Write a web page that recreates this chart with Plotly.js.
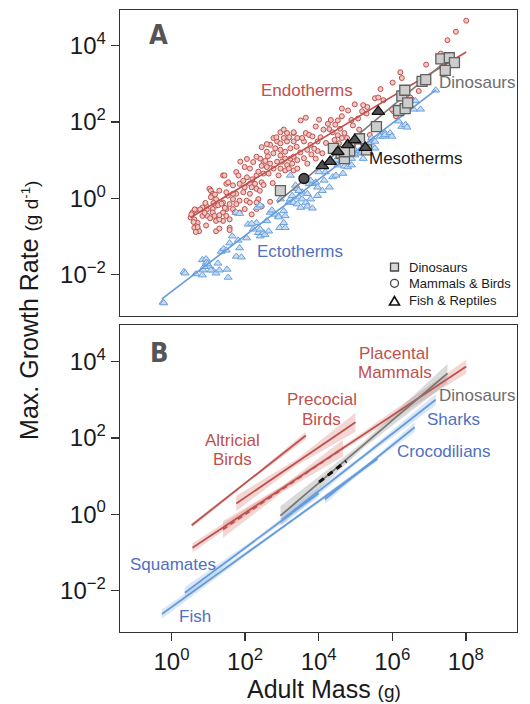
<!DOCTYPE html>
<html>
<head>
<meta charset="utf-8">
<script src="https://cdn.plot.ly/plotly-3.0.1.min.js"></script>
<style>html,body{margin:0;padding:0;background:#fff;}</style>
</head>
<body>
<div id="chart" style="width:530px;height:704px;"></div>
<script>
// ---------- Panel A: individual species (log10 adult mass in g, log10 max growth rate in g/day) ----------
const endoLogMass = [
  8.01,7.73,7.50,7.32,6.92,6.22,6.26,6.01,6.72,6.49,6.56,5.68,5.53,5.62,5.76,6.03,6.10,5.99,
  5.32,5.21,4.98,4.63,5.18,5.30,5.07,4.89,4.93,4.63,4.52,4.33,4.45,4.29,4.58,4.38,4.70,4.77,4.52,4.13,4.01,3.92,4.63,4.43,4.55,4.93,5.21,4.70,5.44,5.39,
  3.65,3.51,3.42,3.32,3.65,3.74,3.83,3.60,3.78,3.97,3.69,3.97,4.10,3.92,3.69,3.55,
  2.96,3.14,3.32,3.05,2.77,2.87,2.96,3.14,3.32,3.23,3.09,2.96,2.82,2.68,2.59,2.45,2.59,2.77,2.96,3.09,3.23,3.32,3.42,3.28,3.14,3.00,2.87,2.68,2.50,2.41,2.31,2.59,2.77,2.96,3.09,3.19,3.32,3.42,2.91,2.64,2.45,2.27,2.31,2.50,2.13,
  1.87,1.99,2.13,1.76,1.40,1.44,1.85,1.67,1.99,2.18,2.31,2.13,1.95,1.76,1.67,1.53,1.49,1.67,1.85,2.04,2.13,2.36,2.31,1.99,1.85,1.76,1.58,1.40,1.21,1.30,1.49,
  1.03,1.07,1.12,1.10,1.07,1.21,1.12,0.94,0.84,0.66,0.57,0.52,0.62,0.71,0.66,0.71,0.62,0.84,0.98,1.12,1.17,1.21,1.40,1.40,1.30,1.49,1.58,1.67,1.72,1.49,1.58,0.94,1.21,0.75,
  0.63,0.54,0.60,0.66,0.71,0.78,0.92,0.96,1.14,1.18,1.27,1.36,1.45,1.30,1.05,0.90,1.54,1.82,2.05,2.20,2.36,2.45,2.55,2.62,2.22,2.05,1.95,2.40,2.50,2.75,2.85,3.05,3.20,3.40,3.50,3.60,3.80,3.88,4.05,4.20,4.35,4.25,4.80,5.10,
  2.68,2.45,2.31,2.18,1.30,1.58
];
const endoLogRate = [
  4.65,4.36,4.14,3.79,3.50,3.30,3.15,3.03,2.81,2.64,2.57,2.86,2.62,2.64,2.57,2.28,2.15,2.33,
  2.39,2.44,2.46,2.35,2.28,2.22,2.09,2.05,1.91,2.15,2.04,2.05,1.93,1.81,1.82,1.73,1.71,1.58,1.65,1.80,2.06,1.88,1.58,1.53,1.44,1.38,1.42,1.33,1.56,1.66,
  2.11,2.04,1.58,1.71,1.71,1.66,1.62,1.49,1.40,1.49,1.27,1.24,1.18,1.04,0.91,1.58,
  1.73,1.71,1.73,1.58,1.58,1.49,1.44,1.49,1.49,1.31,1.22,1.27,1.31,1.40,1.42,1.34,1.22,1.18,1.12,1.04,1.04,1.09,1.00,0.91,0.87,0.96,0.96,0.91,0.96,1.04,1.09,0.82,0.78,0.78,0.73,0.78,0.73,0.78,0.60,0.65,0.42,0.38,0.60,0.65,0.38,
  0.96,0.82,0.78,0.69,0.60,0.60,0.38,0.34,0.29,0.29,0.25,0.12,0.16,0.12,0.12,0.07,0.16,-0.02,-0.06,-0.06,-0.11,-0.02,-0.28,-0.28,-0.37,-0.15,-0.15,-0.11,-0.02,0.20,0.38,
  0.25,0.20,0.12,0.07,0.03,-0.19,-0.28,-0.19,-0.24,-0.30,-0.37,-0.50,-0.55,-0.64,-0.73,-0.81,-0.77,-0.46,-0.46,-0.37,-0.46,-0.59,-0.37,-0.59,-0.55,-0.46,-0.55,-0.28,-0.37,-0.28,-0.77,-0.71,-0.86,-0.86,
  -0.29,-0.42,-0.62,-0.88,-0.75,-0.29,-0.12,-0.29,-0.12,0.10,-0.18,-0.14,-0.25,-0.44,-0.52,-0.38,0.42,0.60,0.55,0.50,0.70,0.85,0.98,1.10,0.95,1.03,0.46,0.20,0.35,0.40,1.60,1.80,1.60,1.35,1.20,1.05,1.15,1.30,1.60,1.45,1.30,1.95,2.30,1.80,
  -0.09,-0.21,-0.11,-0.42,-0.79,-0.83
];

const ectoLogMass = [
  -0.23,-0.21,0.34,0.37,0.84,0.94,0.95,0.86,0.66,0.84,1.12,1.03,1.26,1.35,1.51,1.54,1.58,1.65,1.81,1.85,
  1.76,2.04,2.08,2.22,2.31,2.36,2.41,2.50,2.59,2.68,2.82,2.91,2.94,3.05,3.09,3.19,3.23,3.32,3.42,3.46,
  3.55,3.51,3.65,3.69,3.42,3.37,3.23,3.60,3.74,3.83,3.78,3.92,3.97,4.10,4.15,4.18,4.29,4.38,4.47,4.52,
  4.66,4.70,4.79,4.89,4.98,5.07,5.21,5.25,5.39,5.44,5.53,5.67,5.76,5.80,6.17,6.26,6.49,6.58,7.18,1.76,
  2.33,2.41,4.01,
  0.89,0.98,1.07,1.21,1.30,1.42,1.49,1.90,2.18,2.41,2.54,2.64,1.85,2.73,2.91,3.05,3.09,2.96,3.28,3.55,
  3.69,3.78,3.83,3.46,3.97,6.63,6.77,6.36,6.40,5.80,5.94,5.99,5.48,5.53,4.89,4.47,4.70,5.15,5.00
];
const ectoLogRate = [
  -2.72,-2.74,-1.92,-1.96,-1.61,-1.59,-1.68,-1.88,-1.98,-2.01,-1.88,-1.79,-1.70,-1.39,-1.86,-2.07,-1.17,-0.99,-1.10,-1.30,
  -1.52,-1.04,-0.68,-0.81,-0.64,-0.90,-0.99,-0.90,-0.59,-0.37,-0.42,-0.46,-0.77,-0.33,-0.46,-0.11,-0.02,-0.11,-0.15,0.03,
  -0.02,-0.24,-0.11,-0.21,0.25,0.34,0.60,0.56,0.38,0.38,0.47,0.42,0.07,0.20,0.47,0.69,0.29,0.56,0.60,0.87,
  0.65,0.84,0.82,1.04,1.13,1.18,1.04,1.31,1.40,1.58,1.49,1.62,1.62,1.71,2.02,1.88,2.55,2.33,2.83,-0.37,
  -0.24,-0.18,0.69,
  -1.79,-1.72,-1.88,-1.96,-1.88,-1.32,-1.36,-1.54,-0.66,-0.81,-0.95,-0.86,-0.40,-0.31,-0.49,-0.64,-0.77,-0.02,0.07,0.16,
  0.12,-0.02,-0.26,0.20,0.29,2.55,2.33,1.93,1.86,1.66,1.71,1.62,1.35,1.31,0.87,1.00,1.00,1.20,1.25
];

const dinoLogMass = [2.96,4.40,4.61,4.70,4.84,5.11,5.30,5.57,6.17,6.35,6.26,6.34,6.42,6.81,6.91,7.32,7.55,7.69,7.44,4.70];
const dinoLogRate = [0.20,1.31,1.18,1.04,1.24,1.56,1.27,1.88,2.30,2.35,2.68,2.83,2.50,3.06,3.11,3.65,3.68,3.55,3.35,1.22];

const mesoReptLogMass = [4.10,4.31,4.52,4.79,4.98,5.27,5.62];
const mesoReptLogRate = [0.85,0.96,1.22,1.40,1.53,1.33,2.27];
const mesoMammLogMass = [3.60];
const mesoMammLogRate = [0.52];

// Panel A fitted lines: [start, end]
const fitANames = ['Endotherms', 'Ectotherms', 'Dinosaurs'];
const fitALogMass = [[0.52, 8.01], [-0.26, 7.18], [2.87, 7.46]];
const fitALogRate = [[-0.50, 3.83], [-2.63, 2.83], [-0.11, 3.59]];

// Symbol key for panel A
const keyLabels = ['Dinosaurs', 'Mammals &amp; Birds', 'Fish &amp; Reptiles'];

// ---------- Panel B: group regressions with confidence bands ----------
const groupNames   = ['Altricial Birds','Precocial Birds','Placental Mammals','Marsupials','Dinosaurs','Mesotherms','Fish','Squamates','Sharks','Crocodilians'];
const groupKind    = ['endo','endo','endo','endo','dino','meso','ecto','ecto','ecto','ecto'];
const groupDashed  = [false,false,false,true,false,true,false,false,false,false];
const groupLogMassLo = [0.55, 1.76, 0.57, 1.40, 2.96, 4.01, -0.26, 0.36, 3.00, 4.17];
const groupLogMassHi = [3.65, 5.00, 8.01, 4.66, 7.50, 4.75, 5.60, 4.00, 7.18, 6.61];
const groupLogRateLo = [-0.29, 0.28, -0.88, -0.40, -0.04, 0.84, -2.62, -2.06, -0.15, 0.39];
const groupLogRateHi = [2.06, 2.41, 3.87, 1.73, 3.69, 1.39, 1.45, 0.55, 3.00, 2.28];
// half-width of the confidence band (log10 units) at start, middle, end
const groupCI = [[0.06,0.03,0.10],[0.20,0.08,0.25],[0.12,0.04,0.18],[0.22,0.08,0.22],[0.25,0.08,0.25],
                 [0,0,0],[0.12,0.04,0.06],[0.15,0.05,0.10],[0.15,0.05,0.15],[0.12,0.04,0.12]];

// ---------- Axis ticks ----------
const massTickVals = [1, 1e2, 1e4, 1e6, 1e8];
const massTickText = ['10<sup>0</sup>','10<sup>2</sup>','10<sup>4</sup>','10<sup>6</sup>','10<sup>8</sup>'];
const rateTickVals = [1e-2, 1, 1e2, 1e4];
const rateTickText = ['10<sup>\u22122</sup>','10<sup>0</sup>','10<sup>2</sup>','10<sup>4</sup>'];

// ---------- Styling ----------
const FONT = 'Liberation Sans, Arial, Helvetica, sans-serif';
const RED = 'rgb(192,80,77)';
const BLUE_LINE = 'rgb(100,155,220)';
const BLUE_TXT = 'rgb(80,112,192)';
const GREY_TXT = 'rgb(110,110,110)';
const kindLine = {endo: RED, ecto: BLUE_LINE, dino: 'rgb(120,120,120)', meso: '#111'};
const kindBand = {endo: 'rgba(215,130,120,0.32)', ecto: 'rgba(130,175,230,0.30)', dino: 'rgba(150,150,150,0.35)', meso: 'rgba(0,0,0,0)'};

const p10 = v => Math.pow(10, v);
const traces = [];

// Panel A scatter
traces.push({x: endoLogMass.map(p10), y: endoLogRate.map(p10), xaxis: 'x2', yaxis: 'y', mode: 'markers', type: 'scatter',
  marker: {symbol: 'circle', size: 5, color: 'rgb(240,200,196)', line: {color: RED, width: 1}}});
traces.push({x: ectoLogMass.map(p10), y: ectoLogRate.map(p10), xaxis: 'x2', yaxis: 'y', mode: 'markers', type: 'scatter',
  marker: {symbol: 'triangle-up', size: 7, color: 'rgb(200,221,245)', line: {color: 'rgb(105,160,222)', width: 1}}});

// Panel A fitted lines
const fitAColors = [RED, BLUE_LINE, 'rgb(125,125,125)'];
fitANames.forEach((n, i) => {
  traces.push({x: fitALogMass[i].map(p10), y: fitALogRate[i].map(p10), xaxis: 'x2', yaxis: 'y', mode: 'lines', type: 'scatter',
    name: n, line: {color: fitAColors[i], width: 1.6}});
});

traces.push({x: dinoLogMass.map(p10), y: dinoLogRate.map(p10), xaxis: 'x2', yaxis: 'y', mode: 'markers', type: 'scatter',
  marker: {symbol: 'square', size: 10, color: 'rgb(205,205,205)', line: {color: 'rgb(95,95,95)', width: 1.3}}});
traces.push({x: mesoReptLogMass.map(p10), y: mesoReptLogRate.map(p10), xaxis: 'x2', yaxis: 'y', mode: 'markers', type: 'scatter',
  marker: {symbol: 'triangle-up', size: 11, color: 'rgb(80,80,80)', line: {color: '#111', width: 1.3}}});
traces.push({x: mesoMammLogMass.map(p10), y: mesoMammLogRate.map(p10), xaxis: 'x2', yaxis: 'y', mode: 'markers', type: 'scatter',
  marker: {symbol: 'circle', size: 10, color: 'rgb(80,80,80)', line: {color: '#111', width: 1.3}}});

// Panel B bands then lines
groupNames.forEach((n, i) => {
  const lo = groupLogMassLo[i], hi = groupLogMassHi[i];
  const rlo = groupLogRateLo[i], rhi = groupLogRateHi[i];
  const xs = [lo, (lo + hi) / 2, hi];
  const ys = [rlo, (rlo + rhi) / 2, rhi];
  const ci = groupCI[i];
  if (ci[0] > 0) {
    const px = xs.concat(xs.slice().reverse());
    const py = ys.map((v, k) => v + ci[k]).concat(ys.map((v, k) => v - ci[k]).reverse());
    traces.push({x: px.map(p10), y: py.map(p10), xaxis: 'x', yaxis: 'y2', type: 'scatter', mode: 'lines',
      fill: 'toself', fillcolor: kindBand[groupKind[i]], line: {width: 0}, hoverinfo: 'skip'});
  }
});
groupNames.forEach((n, i) => {
  const isMeso = groupKind[i] === 'meso';
  traces.push({x: [groupLogMassLo[i], groupLogMassHi[i]].map(p10), y: [groupLogRateLo[i], groupLogRateHi[i]].map(p10),
    xaxis: 'x', yaxis: 'y2', type: 'scatter', mode: 'lines', name: n,
    line: {color: kindLine[groupKind[i]], width: isMeso ? 3 : 1.8, dash: groupDashed[i] ? (isMeso ? '6px,5px' : '5px,4px') : 'solid'}});
});

// ---------- Text labels (positions in log10 data units) ----------
function lab(text, xr, yr, lx, ly, color, size, extra) {
  return Object.assign({text: text, xref: xr, yref: yr, x: lx, y: ly, showarrow: false,
    font: {family: FONT, size: size, color: color}, xanchor: 'center', yanchor: 'middle'}, extra || {});
}
const PANEL_FONT = {family: 'Liberation Sans Narrow, DejaVu Sans Condensed, Arial Narrow, sans-serif', size: 27, color: '#555', weight: 700};
const annotations = [
  Object.assign(lab('A', 'x2', 'y', -0.35, 4.29, '#555', 27), {font: PANEL_FONT}),
  lab('Endotherms', 'x2', 'y', 3.69, 2.83, RED, 17),
  lab('Dinosaurs', 'x2', 'y', 8.31, 3.02, GREY_TXT, 17),
  lab('Mesotherms', 'x2', 'y', 6.65, 1.04, '#1a1a1a', 17),
  lab('Ectotherms', 'x2', 'y', 3.49, -1.39, BLUE_TXT, 17),

  Object.assign(lab('B', 'x', 'y2', -0.32, 4.24, '#555', 27), {font: PANEL_FONT}),
  lab('Placental', 'x', 'y2', 6.04, 4.22, RED, 17),
  lab('Mammals', 'x', 'y2', 6.07, 3.71, RED, 17),
  lab('Precocial', 'x', 'y2', 4.08, 3.00, RED, 17),
  lab('Birds', 'x', 'y2', 4.08, 2.47, RED, 17),
  lab('Altricial', 'x', 'y2', 1.65, 1.93, RED, 17),
  lab('Birds', 'x', 'y2', 1.65, 1.42, RED, 17),
  lab('Dinosaurs', 'x', 'y2', 8.31, 3.12, GREY_TXT, 17),
  lab('Sharks', 'x', 'y2', 7.67, 2.49, BLUE_TXT, 17),
  lab('Crocodilians', 'x', 'y2', 7.40, 1.65, BLUE_TXT, 17),
  lab('Squamates', 'x', 'y2', 0.035, -1.33, BLUE_TXT, 17),
  lab('Fish', 'x', 'y2', 0.64, -2.68, BLUE_TXT, 17),

  // symbol key text
  lab(keyLabels[0], 'paper', 'paper', 0.7229, 0.5868, '#1a1a1a', 13, {xanchor: 'left'}),
  lab(keyLabels[1], 'paper', 'paper', 0.7229, 0.5606, '#1a1a1a', 13, {xanchor: 'left'}),
  lab(keyLabels[2], 'paper', 'paper', 0.7229, 0.5323, '#1a1a1a', 13, {xanchor: 'left'}),

  // axis titles
  lab('Adult Mass <span style="font-size:19px">(g)</span>', 'paper', 'paper', 0.515, -0.1158, '#1a1a1a', 25, {yanchor: 'bottom', borderpad: 0}),
  lab('Max. Growth Rate <span style="font-size:19px">(g d<sup>-1</sup>)</span>', 'paper', 'paper', -0.228, 0.517, '#1a1a1a', 25, {textangle: -90})
];

// Symbols of the key (square, circle, triangle) drawn beside the key text
const shapes = [
  {type: 'rect', xref: 'paper', yref: 'paper', x0: 0.6814, x1: 0.7015, y0: 0.5804, y1: 0.5932,
    fillcolor: 'rgb(215,215,215)', line: {color: '#444', width: 1.3}},
  {type: 'circle', xref: 'paper', yref: 'paper', x0: 0.6814, x1: 0.7015, y0: 0.5542, y1: 0.5670,
    fillcolor: 'rgba(0,0,0,0)', line: {color: '#444', width: 1.3}},
  {type: 'path', xref: 'paper', yref: 'paper', path: 'M 0.6914 0.5394 L 0.6788 0.5257 L 0.7040 0.5257 Z',
    fillcolor: 'rgba(0,0,0,0)', line: {color: '#111', width: 1.6}}
];

const axisCommon = {
  type: 'log', showgrid: false, zeroline: false, showline: true, mirror: true,
  linecolor: '#333', linewidth: 1.3, tickcolor: '#333', tickwidth: 1.3, ticklen: 8,
  tickfont: {family: FONT, size: 24, color: '#1a1a1a'}
};

const layout = {
  width: 530, height: 704,
  margin: {l: 120, r: 13, t: 10, b: 72},
  paper_bgcolor: '#fff', plot_bgcolor: '#fff',
  showlegend: false,
  xaxis: Object.assign({}, axisCommon, {domain: [0, 1], anchor: 'y2', range: [-1.40, 9.39],
    tickvals: massTickVals, ticktext: massTickText, ticks: 'outside'}),
  xaxis2: Object.assign({}, axisCommon, {domain: [0, 1], anchor: 'y', range: [-1.40, 9.39],
    showticklabels: false, ticks: ''}),
  yaxis: Object.assign({}, axisCommon, {domain: [0.508, 1], anchor: 'x2', range: [-3.08, 4.93],
    tickvals: rateTickVals, ticktext: rateTickText, ticks: 'outside'}),
  yaxis2: Object.assign({}, axisCommon, {domain: [0, 0.4936], anchor: 'x', range: [-3.09, 4.96],
    tickvals: rateTickVals, ticktext: rateTickText, ticks: 'outside'}),
  annotations: annotations,
  shapes: shapes
};

Plotly.newPlot('chart', traces, layout, {displayModeBar: false, staticPlot: true});
</script>
</body>
</html>
